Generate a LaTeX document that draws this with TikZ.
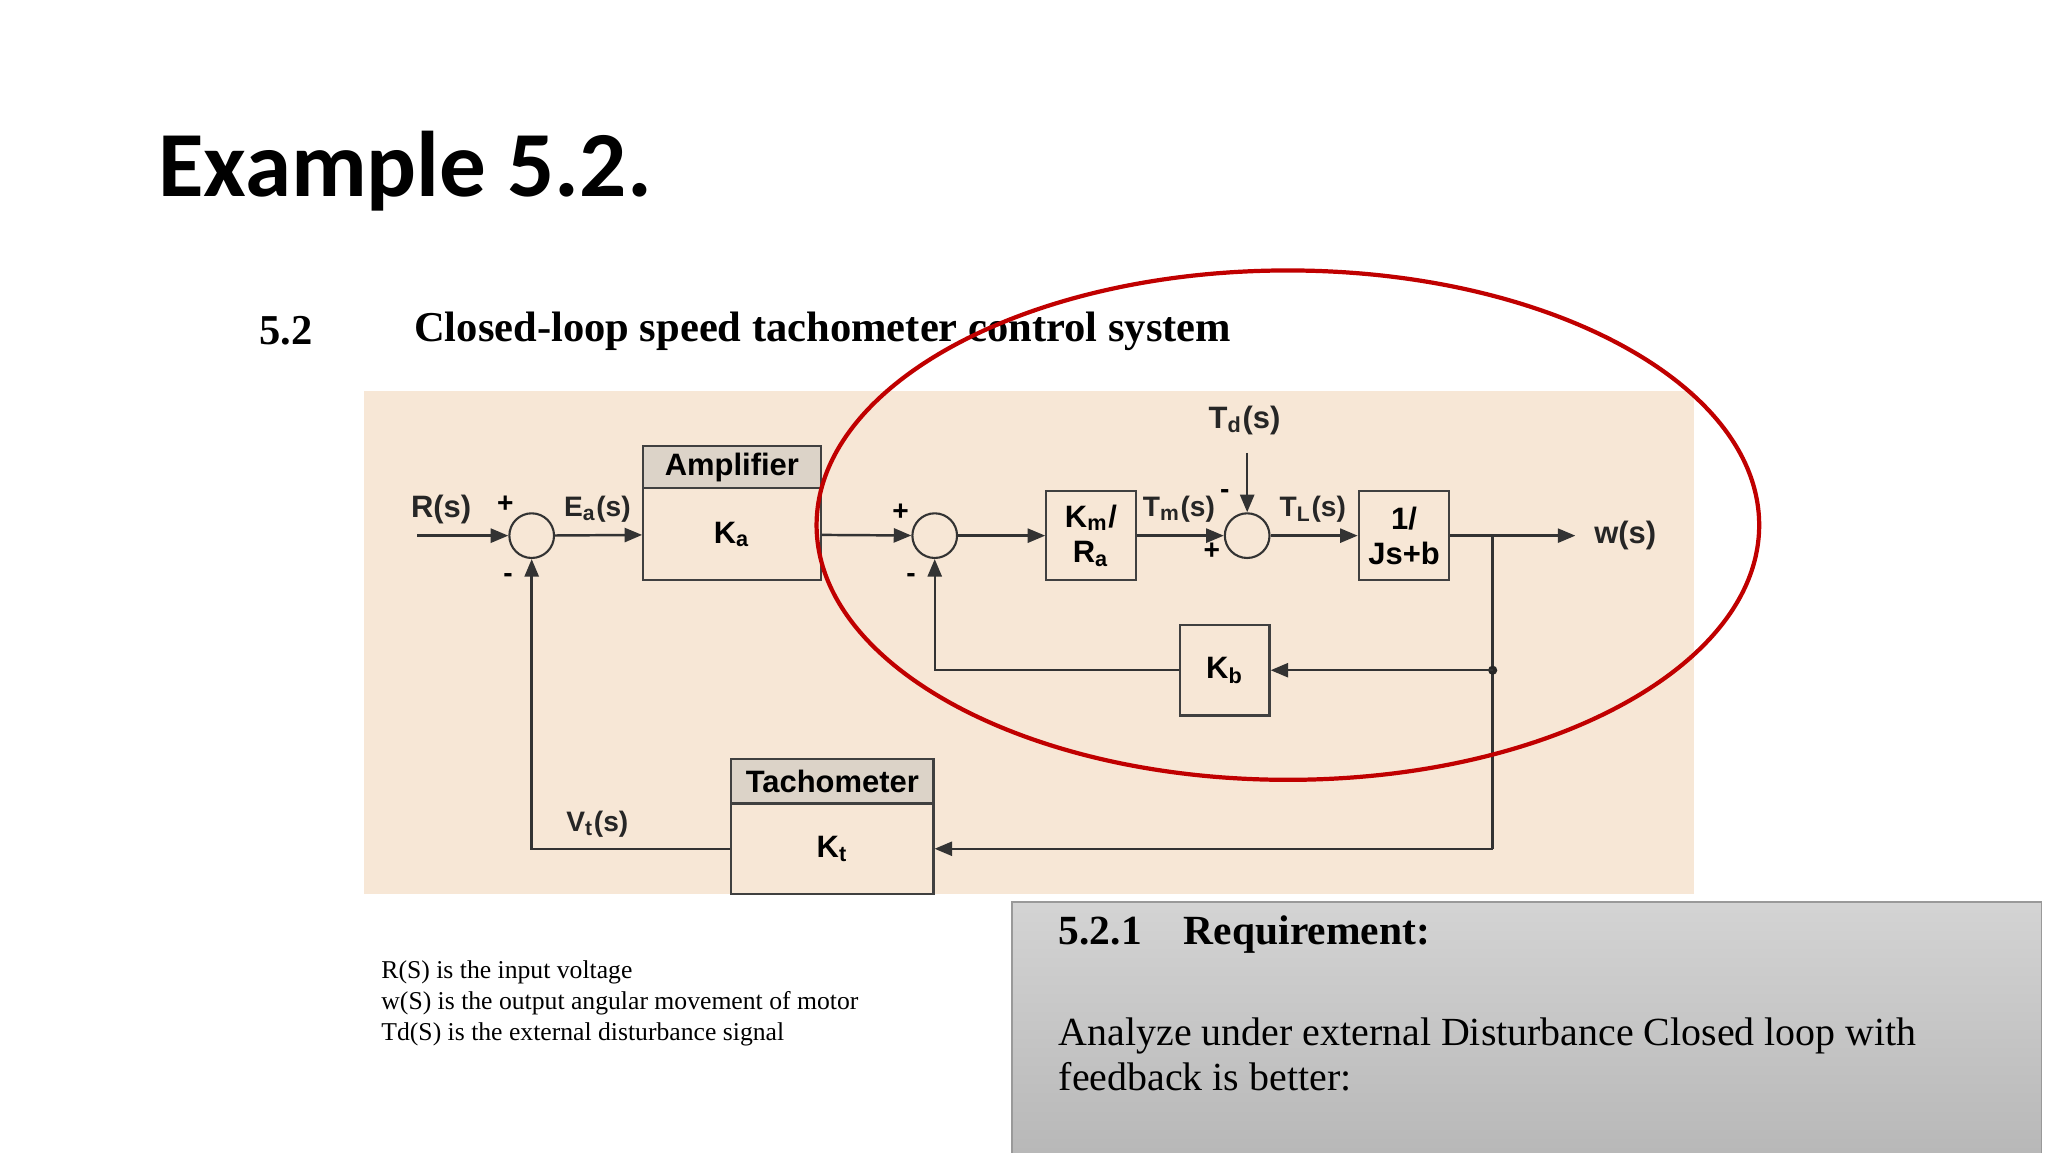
\documentclass[tikz,border=0pt]{standalone}
\usepackage{fontspec}
\setmainfont{Liberation Serif}
\newfontfamily\diag{Liberation Sans}
\newfontfamily\titlef{Carlito}
\usetikzlibrary{arrows.meta,positioning}
\definecolor{bg}{HTML}{F7E7D6}
\definecolor{hdr}{HTML}{DCD3C8}
\definecolor{ered}{HTML}{C00000}
\tikzset{
 blk/.style={draw=black!75,line width=0.6pt,inner sep=0pt,font=\diag\bfseries\fontsize{8.8}{10}\selectfont,align=center},
 sumc/.style={draw=black!80,circle,line width=0.6pt,minimum size={34*0.3737pt},inner sep=0pt},
 sig/.style={line width=0.7pt,draw=black!80,-{Triangle[length=5pt,width=4pt]}},
 wire/.style={line width=0.7pt,draw=black!80},
 lbl/.style={font=\diag\bfseries\fontsize{8}{9.5}\selectfont,inner sep=0pt,text=black!85},
 sgn/.style={font=\diag\bfseries\fontsize{8}{9}\selectfont,inner sep=0pt},
}
\begin{document}
\begin{tikzpicture}[x=0.013128cm,y=-0.013128cm]
\useasboundingbox (0,0) rectangle (1560,877.5);
\fill[white] (0,0) rectangle (1560,877.5);
\node[anchor=west,inner sep=0pt,font=\titlef\bfseries\fontsize{26.5}{30}\selectfont] (title) at (120,130) {Example 5.2.};
\node[anchor=west,inner sep=0pt,font=\bfseries\fontsize{12.1}{14}\selectfont] (sec) at (197,252) {5.2};
\node[anchor=west,inner sep=0pt,font=\bfseries\fontsize{12.1}{14}\selectfont] (sect) at (315,252) {Closed-loop speed tachometer control system};
\fill[bg] (277,298) rectangle (1290,681);
% blocks
\node[blk,minimum width={135*0.3737pt},minimum height={70*0.3737pt}] (amp) at (557.5,407) {K\textsubscript{a}};
\node[blk,fill=hdr,minimum width={135*0.3737pt},minimum height={32*0.3737pt}] (ampt) at (557.5,356) {Amplifier};
\node[blk,minimum width={68*0.3737pt},minimum height={68*0.3737pt}] (km) at (831,408) {K\textsubscript{m}/\\R\textsubscript{a}};
\node[blk,minimum width={69*0.3737pt},minimum height={68*0.3737pt}] (js) at (1069.5,408) {1/\\Js+b};
\node[blk,minimum width={68*0.3737pt},minimum height={69*0.3737pt}] (kb) at (933,510.5) {K\textsubscript{b}};
\node[blk,fill=hdr,minimum width={154*0.3737pt},minimum height={34*0.3737pt}] (tacht) at (634,595) {Tachometer};
\node[blk,minimum width={154*0.3737pt},minimum height={69*0.3737pt}] (tach) at (634,646.5) {K\textsubscript{t}};
\node[sumc] (s1) at (405,408) {};
\node[sumc] (s2) at (712,408) {};
\node[sumc] (s3) at (950,408) {};
\coordinate (rin) at (318,408);
\coordinate (tdin) at (950,345);
\coordinate (wout) at (1200,408);
\coordinate (br) at (1137,408);
\coordinate (brk) at (1137,510.5);
\coordinate (brt) at (1137,646.5);
\coordinate (kbc) at (712,510.5);
\coordinate (tc) at (405,646.5);
% signals
\draw[sig] (rin) -- (s1);
\draw[sig] (s1) -- (amp);
\draw[sig] (amp) -- (s2);
\draw[sig] (s2) -- (km);
\draw[sig] (km) -- (s3);
\draw[sig] (s3) -- (js);
\draw[sig] (tdin) -- (s3);
\draw[sig] (js) -- (wout);
\draw[wire] (br) -- (brt);
\fill[black!85] (brk) circle (3.5);
\draw[sig] (brk) -- (kb);
\draw[sig] (kb) -- (kbc) -- (s2);
\draw[sig] (brt) -- (tach);
\draw[sig] (tach) -- (tc) -- (s1);
% labels
\node[lbl,font=\diag\bfseries\fontsize{8.8}{10}\selectfont] (lr) at (336,388) {R(s)};
\node[lbl,font=\diag\bfseries\fontsize{8.8}{10}\selectfont] (lw) at (1238,408) {w(s)};
\node[lbl,font=\diag\bfseries\fontsize{8.8}{10}\selectfont] (ltd) at (948,320) {T\textsubscript{d}(s)};
\node[lbl] (lea) at (455,388) {E\textsubscript{a}(s)};
\node[lbl] (ltm) at (898,388) {T\textsubscript{m}(s)};
\node[lbl] (ltl) at (1000,388) {T\textsubscript{L}(s)};
\node[lbl] (lvt) at (455,628) {V\textsubscript{t}(s)};
\node[sgn] (p1) at (385,384) {+};
\node[sgn] (m1) at (387,440) {-};
\node[sgn] (p2) at (686,390) {+};
\node[sgn] (m2) at (694,440) {-};
\node[sgn] (m3) at (933,376) {-};
\node[sgn] (p3) at (923,420) {+};
% ellipse
\draw[ered,line width=1.2pt] (981,400) ellipse [x radius=359, y radius=194];
% notes
\node[anchor=north west,inner sep=0pt,align=left,font=\fontsize{7.3}{8.9}\selectfont] (notes) at (290,731) {R(S) is the input voltage\\w(S) is the output angular movement of motor\\Td(S) is the external disturbance signal};
% requirement box
\shade[top color=black!17,bottom color=black!28] (771,687) rectangle (1555,880);
\draw[black!40,line width=0.5pt] (771,687) rectangle (1555,880);
\node[anchor=west,inner sep=0pt,font=\bfseries\fontsize{11.8}{14}\selectfont] (rq) at (806,712) {5.2.1\hspace{12pt}Requirement:};
\node[anchor=north west,inner sep=0pt,align=left,font=\fontsize{11.35}{12.7}\selectfont] (rqt) at (806,775) {Analyze under external Disturbance Closed loop with\\feedback is better:};
\end{tikzpicture}
\end{document}
